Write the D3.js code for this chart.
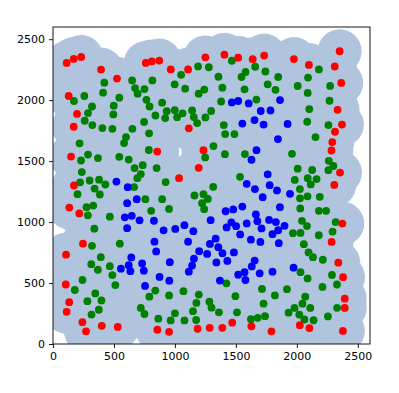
<!DOCTYPE html>
<html>
<head>
<meta charset="utf-8">
<script src="https://cdn.jsdelivr.net/npm/d3@7"></script>
<style>
  html, body { margin: 0; padding: 0; background: #fff; }
  svg { display: block; }
  .tick text { font-family: "DejaVu Sans", sans-serif; }
</style>
</head>
<body>
<div id="chart"></div>
<script>
// ---- data ----
const xTicks = [0, 500, 1000, 1500, 2000, 2500];
const yTicks = [0, 500, 1000, 1500, 2000, 2500];

const redPoints = [
  [112,2305],[170,2338],[231,2354],[394,2251],[525,2177],[129,2034],[197,1887],[170,1782],
  [148,1537],[172,1300],[761,2305],[810,2318],[872,2325],[855,1578],[966,2252],[1108,2252],
  [1250,2351],[1406,2373],[1519,2348],[1638,2336],[1732,2366],[1114,1769],[1234,1590],[1195,1445],
  [1034,1360],[2351,2401],[1976,2337],[2099,2289],[2311,2276],[2364,2141],[2334,1921],[2370,1800],
  [2313,1741],[2291,1656],[2284,1587],[2354,1406],[2307,1305],[134,1119],[216,1071],[246,823],
  [107,733],[105,488],[133,343],[112,264],[241,179],[271,104],[400,149],[531,140],
  [856,117],[952,100],[1186,125],[1285,133],[1389,133],[1470,175],[1627,145],[1792,104],
  [2373,988],[2285,837],[2340,667],[2379,548],[2393,372],[2393,296],[2024,154],[2103,131],[2378,107]
];

const greenPoints = [
  [421,2143],[411,2061],[257,2034],[172,1993],[320,1948],[287,1894],[260,1831],[323,1796],
  [405,1771],[487,1765],[498,1954],[495,1883],[544,2020],[649,2162],[673,2099],[694,2053],
  [750,2091],[815,2162],[766,2003],[792,1948],[840,1874],[651,1765],[747,1821],[788,1728],
  [599,1697],[583,1648],[218,1646],[786,1591],[287,1554],[230,1505],[369,1525],[544,1535],
  [621,1513],[736,1467],[669,1443],[236,1410],[850,1443],[692,1360],[720,1394],[222,1326],
  [300,1341],[378,1348],[429,1308],[1051,2208],[1190,2277],[1278,2270],[1357,2192],[1467,2323],
  [1579,2231],[1546,2190],[1658,2274],[1742,2235],[1761,2130],[998,2130],[1084,2094],[1195,2053],
  [1241,2087],[1389,2102],[1571,2089],[895,1979],[1379,1989],[1668,2005],[933,1910],[999,1917],
  [920,1853],[1018,1860],[1063,1892],[1141,1915],[1155,1861],[1182,1812],[1250,1858],[1297,1911],
  [1401,1796],[1412,1722],[1488,1722],[1316,1623],[1248,1530],[1410,1557],[1574,1558],[1534,1371],
  [924,1328],[2181,2252],[2092,2185],[1847,2190],[1825,2085],[2007,2116],[2089,2059],[2273,2117],
  [2268,1995],[2102,1927],[2085,1823],[2259,1796],[2153,1697],[1960,1560],[2262,1502],[2300,1460],
  [2259,1426],[2007,1438],[2126,1427],[1983,1346],[2089,1360],[2162,1353],[2114,1309],[201,1229],
  [275,1122],[330,1135],[286,1055],[341,1275],[384,1226],[665,1287],[758,1188],[805,1092],
  [466,1044],[339,946],[548,823],[320,805],[392,712],[314,655],[368,609],[466,638],
  [487,565],[511,483],[242,525],[179,443],[347,415],[397,357],[282,351],[376,281],
  [316,241],[839,438],[790,388],[720,296],[750,246],[864,208],[895,1188],[952,1108],
  [1314,1289],[1160,1218],[1234,1229],[1270,1190],[1223,1155],[1240,1106],[1070,433],[952,398],
  [1196,405],[1176,337],[1283,347],[1300,298],[1148,269],[1361,260],[1000,252],[965,193],
  [1078,193],[1174,197],[1422,498],[1496,392],[1509,260],[1714,452],[1727,331],[1739,228],
  [1679,215],[1623,203],[2025,1271],[2026,1195],[2087,1211],[2188,1207],[2028,1112],[2181,1092],
  [2240,1092],[2042,1010],[2083,967],[1968,909],[2030,911],[2180,892],[2318,1000],[2293,922],
  [2057,819],[2096,751],[2132,712],[2213,691],[2030,589],[2088,538],[2288,566],[2329,488],
  [2210,468],[1919,450],[1820,398],[2069,388],[2046,331],[2110,296],[1981,296],[1932,257],
  [2020,241],[2062,201],[2137,195],[2255,226],[2330,297]
];

const bluePoints = [
  [520,1332],[613,1286],[687,1188],[608,1155],[589,1039],[646,1051],[710,1014],[828,1011],
  [608,950],[832,839],[846,759],[642,710],[621,646],[557,618],[635,597],[731,661],
  [745,601],[874,550],[755,476],[1467,1981],[1519,1993],[1605,1973],[1704,1911],[1553,1808],
  [1653,1837],[1727,1800],[1669,1590],[1628,1511],[1761,1392],[1589,1314],[1862,2001],[1784,1915],
  [1924,1805],[1845,1681],[907,932],[1003,944],[1078,975],[1151,925],[1108,839],[1199,761],
  [1156,700],[1141,643],[1114,593],[958,671],[954,519],[1293,1016],[1416,1089],[1478,1104],
  [1553,1127],[1463,998],[1424,956],[1502,966],[1535,899],[1589,989],[1664,1063],[1676,1007],
  [1710,948],[1623,856],[1334,864],[1287,821],[1356,794],[1264,739],[1390,745],[1484,751],
  [1340,669],[1430,681],[1369,520],[1654,684],[1630,636],[1571,589],[1519,568],[1578,525],
  [1695,580],[1656,1271],[1720,1204],[1777,1303],[1837,1260],[1944,1232],[1861,1122],[1772,1018],
  [1828,1000],[1899,969],[1847,933],[1800,901],[1852,827],[1800,593],[1973,626],[1701,837]
];

// ---- layout ----
const W = 399, H = 393;
const plot = { left: 53, right: 370, top: 27, bottom: 344 };

const svg = d3.select("#chart").append("svg")
  .attr("width", W).attr("height", H);

const x = d3.scaleLinear().domain([0, 2600]).range([plot.left, plot.right]);
const y = d3.scaleLinear().domain([0, 2600]).range([plot.bottom, plot.top]);

svg.append("defs").append("clipPath").attr("id", "clip")
  .append("rect")
  .attr("x", plot.left).attr("y", plot.top)
  .attr("width", plot.right - plot.left).attr("height", plot.bottom - plot.top);

const allPoints = redPoints.concat(greenPoints, bluePoints);
const haloR = x(180) - x(0);
const dotR = 3.9;

const g = svg.append("g").attr("clip-path", "url(#clip)");

g.append("g").selectAll("circle").data(allPoints).join("circle")
  .attr("cx", d => x(d[0])).attr("cy", d => y(d[1]))
  .attr("r", haloR).attr("fill", "#b0c4de");

const series = [
  { pts: greenPoints, color: "#008000" },
  { pts: bluePoints, color: "#0000ff" },
  { pts: redPoints, color: "#ff0000" }
];
series.forEach(s => {
  g.append("g").selectAll("circle").data(s.pts).join("circle")
    .attr("cx", d => x(d[0])).attr("cy", d => y(d[1]))
    .attr("r", dotR).attr("fill", s.color);
});

// ---- axes ----
const fontSize = "11px";
const xAxis = svg.append("g").attr("transform", `translate(0,${plot.bottom})`)
  .call(d3.axisBottom(x).tickValues(xTicks).tickSize(4).tickPadding(4).tickFormat(d3.format("d")));
const yAxis = svg.append("g").attr("transform", `translate(${plot.left},0)`)
  .call(d3.axisLeft(y).tickValues(yTicks).tickSize(4).tickPadding(4).tickFormat(d3.format("d")));

[xAxis, yAxis].forEach(a => {
  a.select(".domain").remove();
  a.selectAll(".tick line").attr("stroke", "#000").attr("stroke-width", 0.9);
  a.selectAll(".tick text").attr("fill", "#000").style("font-size", fontSize)
    .style("font-family", "DejaVu Sans, sans-serif");
});

svg.append("rect")
  .attr("x", plot.left).attr("y", plot.top)
  .attr("width", plot.right - plot.left).attr("height", plot.bottom - plot.top)
  .attr("fill", "none").attr("stroke", "#000").attr("stroke-width", 0.9);
</script>
</body>
</html>
